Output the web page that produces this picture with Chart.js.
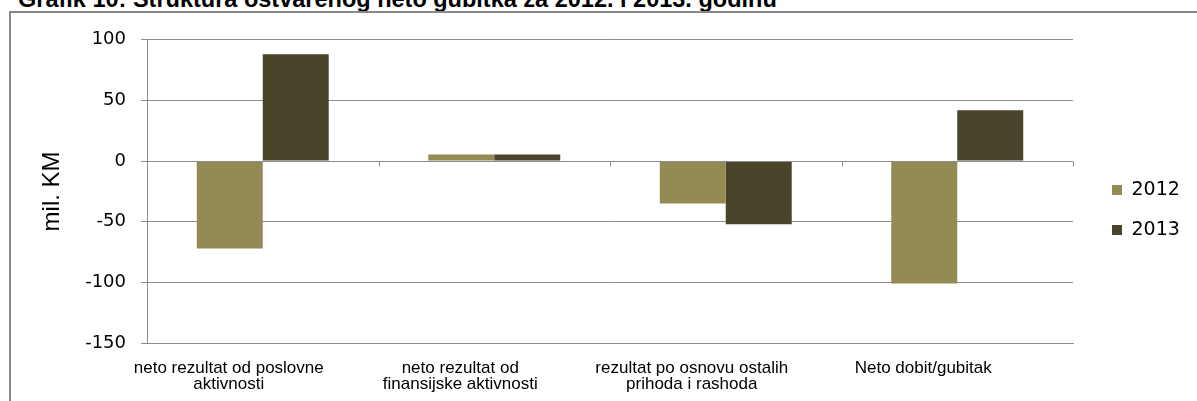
<!DOCTYPE html>
<html>
<head>
<meta charset="utf-8">
<script src="https://cdn.jsdelivr.net/npm/chart.js@4"></script>
<style>
  body { margin: 0; background: #fff; overflow: hidden; }
  #title { position: absolute; left: 18px; top: -12px; font: bold 23.5px/23px "Liberation Sans", Arial, sans-serif; color: #000; white-space: nowrap; }
  #frame { position: absolute; left: 9px; top: 11px; width: 1300px; height: 500px; border-left: 2px solid #888; border-top: 2px solid #888; }
  #wrap { position: absolute; left: 12px; top: 14px; width: 1185px; height: 387px; }
</style>
</head>
<body>
<div id="title">Grafik 10: Struktura ostvarenog neto gubitka za 2012. i 2013. godinu</div>
<div id="frame"></div>
<div id="wrap"><canvas id="myChart"></canvas></div>
<script>
const categories = [
    ['neto rezultat od poslovne', 'aktivnosti'],
    ['neto rezultat od', 'finansijske aktivnosti'],
    ['rezultat po osnovu ostalih', 'prihoda i rashoda'],
    'Neto dobit/gubitak'
];
const values2012 = [-72, 5.5, -35, -101];
const values2013 = [88, 5.5, -52, 42];

const gridGrey = '#8c8c8c';

// little tick marks on the zero line between categories
const zeroTicks = {
    id: 'zeroTicks',
    afterDatasetsDraw(chart) {
        const x = chart.scales.x, y = chart.scales.y;
        const c = chart.ctx;
        const y0 = Math.round(y.getPixelForValue(0)) + 0.5;
        const step = (x.right - x.left) / categories.length;
        c.save();
        c.strokeStyle = gridGrey;
        c.lineWidth = 1;
        c.beginPath();
        c.moveTo(x.left, y0);
        c.lineTo(x.right, y0);
        for (let i = 1; i <= categories.length; i++) {
            const px = Math.round(x.left + i * step) + 0.5;
            c.moveTo(px, y0);
            c.lineTo(px, y0 + 5);
        }
        c.stroke();
        c.restore();
    }
};

// legend: fixed width, items nudged to where Excel put them
const legendPlace = {
    id: 'legendPlace',
    afterInit(chart) {
        const lg = chart.legend;
        const fit = lg.fit.bind(lg);
        const draw = lg.draw.bind(lg);
        lg.fit = function () { fit(); this.width = 124; };
        lg.draw = function () {
            chart.ctx.save();
            chart.ctx.translate(18, -7);
            draw();
            chart.ctx.restore();
        };
    }
};

new Chart(document.getElementById('myChart'), {
    type: 'bar',
    data: {
        labels: categories,
        datasets: [{
            label: '2012',
            data: values2012,
            backgroundColor: '#948a54'
        },
        {
            label: '2013',
            data: values2013,
            backgroundColor: '#4a452a'
        }]
    },
    options: {
        responsive: true,
        maintainAspectRatio: false,
        animation: false,
        datasets: {
            bar: { categoryPercentage: 0.57, barPercentage: 1 }
        },
        layout: { padding: { top: 19, right: 0, left: 0, bottom: 0 } },
        plugins: {
            tooltip: { enabled: false },
            legend: {
                position: 'right',
                labels: {
                    boxWidth: 10,
                    boxHeight: 10,
                    padding: 21,
                    color: '#000',
                    font: { family: 'DejaVu Sans', size: 19 }
                }
            }
        },
        scales: {
            x: {
                grid: { display: false, drawTicks: false },
                border: { color: gridGrey },
                ticks: {
                    color: '#000',
                    padding: 17,
                    labelOffset: -34,
                    maxRotation: 0,
                    font: { family: 'Liberation Sans', size: 17, lineHeight: 0.95 }
                },
                afterFit(scale) { scale.height = 58; }
            },
            y: {
                min: -150,
                max: 100,
                grid: { color: gridGrey, tickLength: 6 },
                border: { color: gridGrey },
                ticks: {
                    stepSize: 50,
                    color: '#000',
                    padding: 15,
                    font: { family: 'DejaVu Sans', size: 18 }
                },
                title: {
                    display: true,
                    text: 'mil. KM',
                    color: '#000',
                    padding: { top: 26, bottom: 0 },
                    font: { family: 'Liberation Sans', size: 24 }
                },
                afterFit(scale) { scale.width = 135; }
            }
        }
    },
    plugins: [zeroTicks, legendPlace]
});
</script>
</body>
</html>
